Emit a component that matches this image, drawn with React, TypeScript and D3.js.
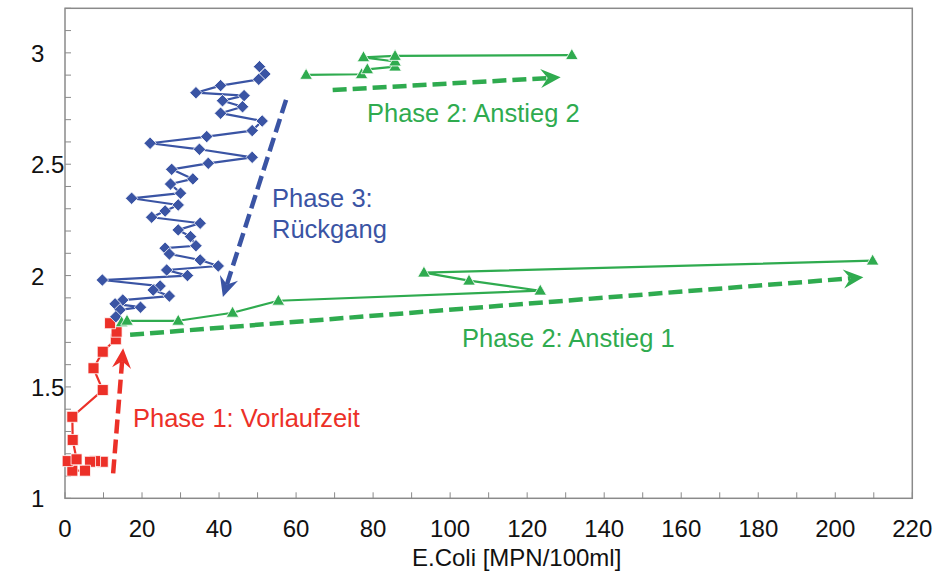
import React from "react";
import * as d3 from "d3";

// Axis setup
const WIDTH = 935;
const HEIGHT = 573;
const xDomain = [0, 220];
const yDomain = [1, 3.2];
const xTickLabels = [0, 20, 40, 60, 80, 100, 120, 140, 160, 180, 200, 220];
const yTickLabels = [1, 1.5, 2, 2.5, 3];
const xMinorTicks = d3.range(0, 221, 10);
const yMinorTicks = d3.range(10, 33).map((v) => v / 10);

// Phase 1: Vorlaufzeit (red squares)
const phase1Ecoli = [9.8, 7.8, 6.5, 5.2, 1.9, 0.7, 3.0, 2.0, 1.9, 9.8, 7.4, 9.8, 13.2, 13.4, 11.7];
const phase1Value = [1.164, 1.167, 1.164, 1.124, 1.124, 1.167, 1.175, 1.262, 1.366, 1.486, 1.584, 1.658, 1.714, 1.748, 1.786];

// Phase 2: Anstieg 1 (green triangles)
const rise1Ecoli = [14.7, 16.1, 29.4, 43.5, 55.4, 123.4, 104.9, 93.2, 209.7];
const rise1Value = [1.79, 1.797, 1.797, 1.833, 1.887, 1.932, 1.977, 2.013, 2.067];

// Phase 2: Anstieg 2 (green triangles)
const rise2Ecoli = [62.6, 77.0, 78.5, 85.7, 85.7, 77.5, 85.7, 131.6];
const rise2Value = [2.901, 2.904, 2.926, 2.938, 2.961, 2.98, 2.986, 2.99];

// Phase 3: Rückgang (blue diamonds)
const declineEcoli = [
  50.5, 51.9, 50.3, 40.4, 34.0, 46.5, 40.9, 46.1, 40.4, 51.2, 48.6, 36.8, 22.1, 34.9, 48.6,
  37.2, 27.7, 33.2, 27.4, 30.0, 17.3, 29.4, 26.0, 22.5, 35.1, 29.4, 32.6, 34.0, 26.0, 27.1,
  35.1, 39.8, 26.4, 31.8, 9.7, 24.7, 22.9, 27.1, 15.0, 13.0, 19.6, 14.3, 13.2,
];
const declineValue = [
  2.938, 2.905, 2.881, 2.853, 2.821, 2.808, 2.785, 2.758, 2.729, 2.694, 2.651, 2.624, 2.594,
  2.567, 2.531, 2.504, 2.477, 2.434, 2.411, 2.37, 2.347, 2.317, 2.29, 2.262, 2.235, 2.205,
  2.175, 2.134, 2.123, 2.097, 2.07, 2.043, 2.025, 2.0, 1.98, 1.953, 1.935, 1.908, 1.89, 1.873,
  1.858, 1.846, 1.815,
];

// Trend arrows: [startEcoli, startValue, endEcoli, endValue]
const arrowPhase1 = [12.5, 1.112, 15.1, 1.674];
const arrowPhase3 = [57.4, 2.789, 41.0, 1.904];
const arrowRise1 = [16.9, 1.734, 207.3, 1.992];
const arrowRise2 = [69.5, 2.833, 128.7, 2.89];

const RED = "#ec3028";
const BLUE = "#3a54a4";
const GREEN = "#2fab4f";
const AXIS = "#8a8a8a";

const margin = { left: 65, right: WIDTH - 912.3, top: 8.3, bottom: HEIGHT - 498.3 };

const x = d3.scaleLinear().domain(xDomain).range([margin.left, WIDTH - margin.right]);
const y = d3.scaleLinear().domain(yDomain).range([HEIGHT - margin.bottom, margin.top]);

type Pt = [number, number];
const zipPts = (xs: number[], ys: number[]): Pt[] => xs.map((v, i) => [v, ys[i]]);

const line = d3
  .line<Pt>()
  .x((d) => x(d[0]))
  .y((d) => y(d[1]));

function marker(kind: string, cx: number, cy: number) {
  if (kind === "square") {
    const s = 5.5;
    return `M${cx - s},${cy - s}H${cx + s}V${cy + s}H${cx - s}Z`;
  }
  if (kind === "diamond") {
    const s = 6.2;
    return `M${cx},${cy - s}L${cx + s},${cy}L${cx},${cy + s}L${cx - s},${cy}Z`;
  }
  const w = 6.3;
  const h = 11;
  return `M${cx},${cy - h * 0.6}L${cx + w},${cy + h * 0.4}L${cx - w},${cy + h * 0.4}Z`;
}

function Series({ pts, color, kind }: { pts: Pt[]; color: string; kind: string }) {
  return (
    <g>
      <path d={line(pts) || ""} fill="none" stroke={color} strokeWidth={2.2} strokeLinejoin="round" />
      {pts.map((p, i) => (
        <path
          key={i}
          d={marker(kind, x(p[0]), y(p[1]))}
          fill={color}
          stroke="#fff"
          strokeWidth={0.8}
        />
      ))}
    </g>
  );
}

function TrendArrow({ a, color }: { a: number[]; color: string }) {
  const x1 = x(a[0]);
  const y1 = y(a[1]);
  const x2 = x(a[2]);
  const y2 = y(a[3]);
  const ang = Math.atan2(y2 - y1, x2 - x1);
  const len = 20;
  const half = 9.5;
  const notch = 13;
  const ux = Math.cos(ang);
  const uy = Math.sin(ang);
  const px = -uy;
  const py = ux;
  const bx = x2 - ux * len;
  const by = y2 - uy * len;
  const nx = x2 - ux * notch;
  const ny = y2 - uy * notch;
  const head = `M${x2},${y2}L${bx + px * half},${by + py * half}L${nx},${ny}L${bx - px * half},${by - py * half}Z`;
  return (
    <g>
      <line
        x1={x1}
        y1={y1}
        x2={nx}
        y2={ny}
        stroke={color}
        strokeWidth={4.5}
        strokeDasharray="14 6"
      />
      <path d={head} fill={color} />
    </g>
  );
}

export default function App() {
  const x0 = margin.left;
  const x1 = WIDTH - margin.right;
  const y0 = HEIGHT - margin.bottom;
  const y1 = margin.top;
  const font = "'Liberation Sans', Arial, sans-serif";
  return (
    <svg
      width={WIDTH}
      height={HEIGHT}
      style={{ position: "absolute", left: 0, top: 0, background: "#fff" }}
      fontFamily={font}
    >
      <rect x={x0} y={y1} width={x1 - x0} height={y0 - y1} fill="#fff" stroke={AXIS} strokeWidth={1.5} />
      {xMinorTicks.map((t) => (
        <line key={"xt" + t} x1={x(t)} x2={x(t)} y1={y0} y2={y0 - 6} stroke={AXIS} strokeWidth={1} />
      ))}
      {yMinorTicks.map((t) => (
        <line key={"yt" + t} x1={x0} x2={x0 + 6} y1={y(t)} y2={y(t)} stroke={AXIS} strokeWidth={1} />
      ))}
      {xTickLabels.map((t) => (
        <text key={"xl" + t} x={x(t)} y={y0 + 39} textAnchor="middle" fontSize={24} fill="#111">
          {t}
        </text>
      ))}
      {yTickLabels.map((t) => (
        <text key={"yl" + t} x={31} y={y(t) + 9} fontSize={24} fill="#111">
          {t}
        </text>
      ))}
      <text x={(x0 + x1) / 2 + 28} y={566} textAnchor="middle" fontSize={24} fill="#111">
        E.Coli [MPN/100ml]
      </text>

      <Series pts={zipPts(phase1Ecoli, phase1Value)} color={RED} kind="square" />
      <Series pts={zipPts(declineEcoli, declineValue)} color={BLUE} kind="diamond" />
      <Series pts={zipPts(rise1Ecoli, rise1Value)} color={GREEN} kind="triangle" />
      <Series pts={zipPts(rise2Ecoli, rise2Value)} color={GREEN} kind="triangle" />

      <TrendArrow a={arrowPhase1} color={RED} />
      <TrendArrow a={arrowPhase3} color={BLUE} />
      <TrendArrow a={arrowRise1} color={GREEN} />
      <TrendArrow a={arrowRise2} color={GREEN} />

      <text x={133} y={427} fontSize={25.5} fill={RED}>
        Phase 1: Vorlaufzeit
      </text>
      <text x={272} y={207} fontSize={25.5} fill={BLUE}>
        Phase 3:
      </text>
      <text x={272} y={238} fontSize={25.5} fill={BLUE}>
        Rückgang
      </text>
      <text x={367} y={122} fontSize={25.5} fill={GREEN}>
        Phase 2: Anstieg 2
      </text>
      <text x={462} y={347} fontSize={25.5} fill={GREEN}>
        Phase 2: Anstieg 1
      </text>
    </svg>
  );
}
